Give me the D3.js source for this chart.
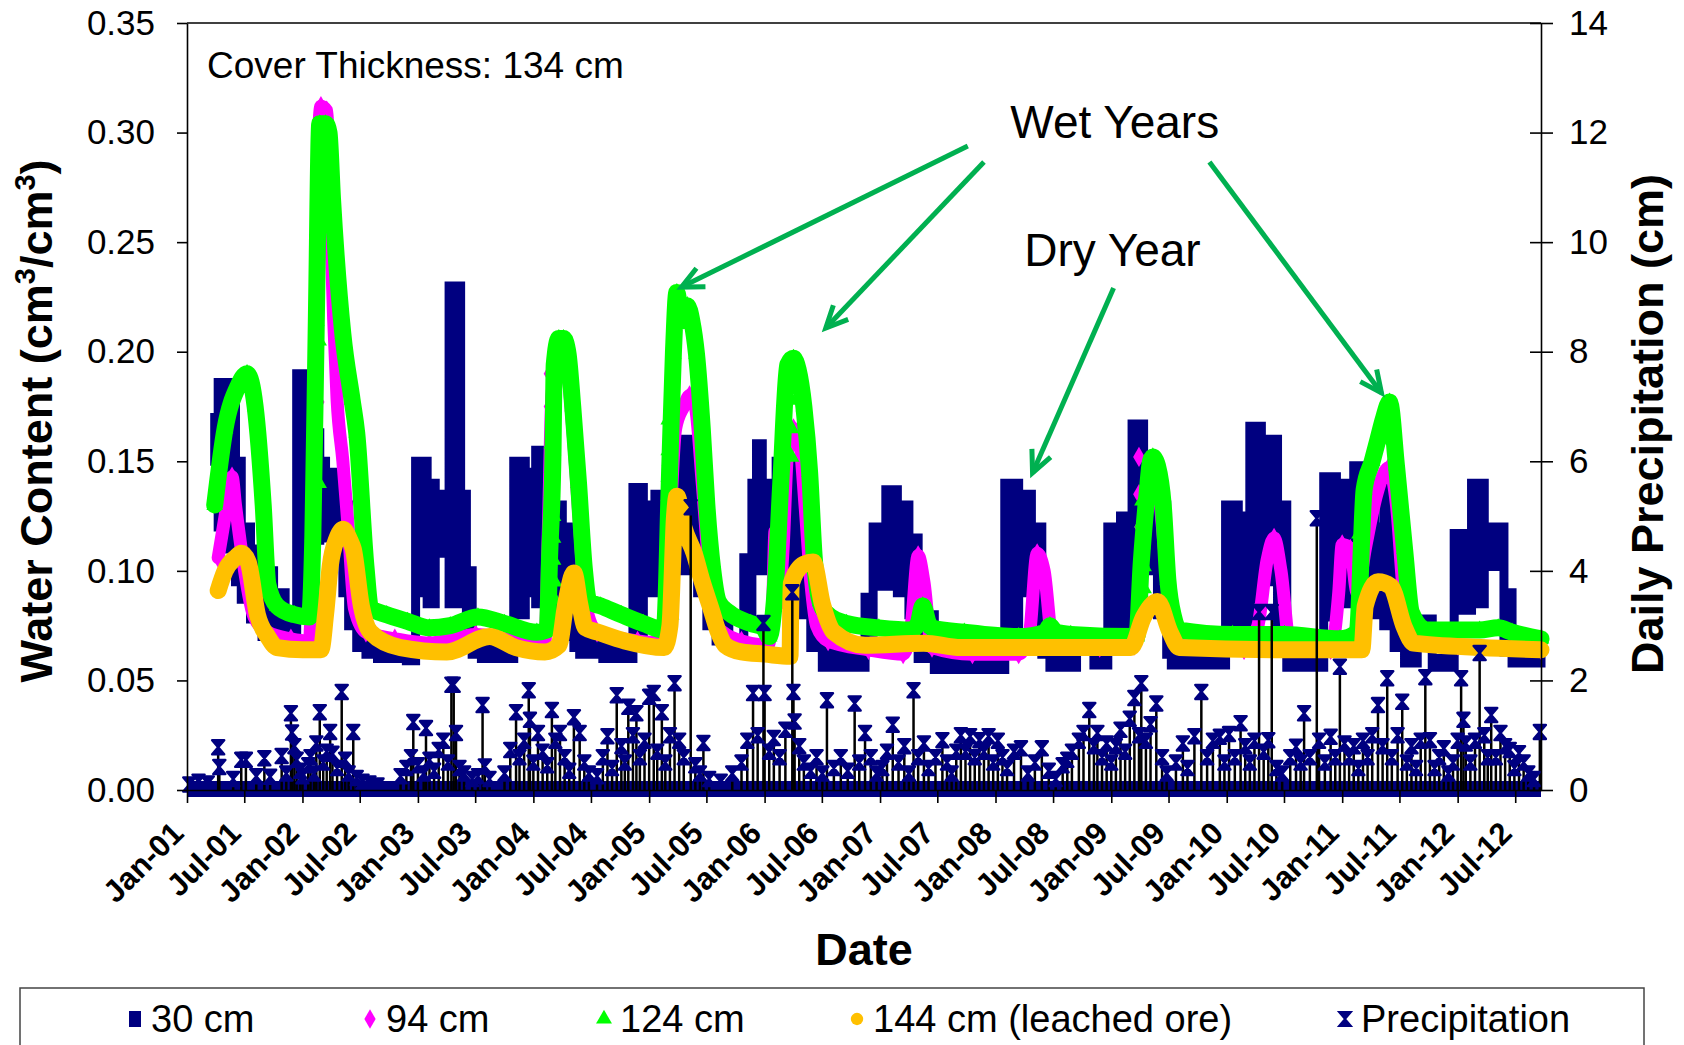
<!DOCTYPE html>
<html>
<head>
<meta charset="utf-8">
<script src="https://cdn.jsdelivr.net/npm/d3@7"></script>
<style>
  body { margin: 0; background: #fff; }
  svg { display: block; }
  text { font-family: "Liberation Sans", Arial, Helvetica, sans-serif; fill: #000; }
</style>
</head>
<body>
<svg id="chart" width="1684" height="1045"></svg>
<script>
// ---------------------------------------------------------------------------
// Data (dates as decimal years)
// ---------------------------------------------------------------------------
const seriesNames = ["30 cm", "94 cm", "124 cm", "144 cm (leached ore)", "Precipitation"];
const leftTicks = [0, 0.05, 0.10, 0.15, 0.20, 0.25, 0.30, 0.35];
const rightTicks = [0, 2, 4, 6, 8, 10, 12, 14];
const dateRange = [2001.0, 2012.72];
const precipRecord = [2001.0, 2012.72];   // daily precipitation record (0 cm on most days)

// 30 cm sensor: daily readings scatter widely, kept as [year, low, high]
const wc30 = [
  [2001.24,0.150,0.170],[2001.27,0.120,0.186],[2001.33,0.110,0.186],[2001.42,0.095,0.150],
  [2001.47,0.087,0.120],[2001.55,0.078,0.110],[2001.65,0.070,0.100],[2001.75,0.066,0.090],
  [2001.85,0.064,0.075],[2001.95,0.085,0.190],[2002.03,0.100,0.190],[2002.08,0.114,0.163],
  [2002.15,0.115,0.150],[2002.20,0.117,0.145],[2002.28,0.110,0.140],[2002.35,0.090,0.130],
  [2002.40,0.075,0.110],[2002.47,0.065,0.085],[2002.55,0.062,0.070],[2002.65,0.060,0.066],
  [2002.90,0.059,0.064],[2002.98,0.090,0.150],[2003.08,0.085,0.140],[2003.15,0.108,0.135],
  [2003.27,0.085,0.230],[2003.37,0.090,0.135],[2003.42,0.072,0.100],[2003.47,0.062,0.070],
  [2003.55,0.060,0.066],[2003.83,0.080,0.150],[2003.93,0.090,0.145],[2004.02,0.085,0.155],
  [2004.17,0.075,0.130],[2004.25,0.070,0.120],[2004.35,0.065,0.100],[2004.40,0.062,0.070],
  [2004.60,0.060,0.065],[2004.86,0.072,0.138],[2004.95,0.090,0.130],[2005.05,0.100,0.135],
  [2005.17,0.105,0.150],[2005.24,0.100,0.160],[2005.35,0.100,0.150],[2005.42,0.090,0.120],
  [2005.50,0.075,0.100],[2005.58,0.068,0.080],[2005.69,0.065,0.068],[2005.82,0.079,0.106],
  [2005.89,0.100,0.140],[2005.93,0.110,0.158],[2005.98,0.100,0.140],[2006.10,0.088,0.150],
  [2006.20,0.090,0.150],[2006.30,0.080,0.130],[2006.40,0.065,0.090],[2006.50,0.056,0.065],
  [2006.87,0.072,0.088],[2006.94,0.093,0.120],[2007.05,0.093,0.137],[2007.15,0.090,0.130],
  [2007.25,0.080,0.115],[2007.33,0.060,0.080],[2007.47,0.055,0.060],[2008.08,0.072,0.140],
  [2008.20,0.090,0.135],[2008.31,0.075,0.120],[2008.40,0.062,0.080],[2008.47,0.056,0.062],
  [2008.70,0.065,0.070],[2008.85,0.057,0.062],[2008.97,0.072,0.120],[2009.08,0.075,0.125],
  [2009.18,0.090,0.167],[2009.28,0.100,0.150],[2009.40,0.080,0.130],[2009.48,0.062,0.080],
  [2009.52,0.057,0.062],[2009.99,0.072,0.130],[2010.10,0.075,0.125],[2010.20,0.087,0.166],
  [2010.30,0.095,0.160],[2010.44,0.070,0.130],[2010.52,0.056,0.062],[2010.84,0.079,0.143],
  [2010.95,0.085,0.140],[2011.05,0.090,0.135],[2011.10,0.087,0.148],[2011.20,0.095,0.140],
  [2011.28,0.080,0.120],[2011.36,0.075,0.140],[2011.45,0.065,0.120],[2011.54,0.058,0.070],
  [2011.65,0.072,0.078],[2011.78,0.056,0.060],[2011.97,0.082,0.117],[2012.12,0.085,0.140],
  [2012.23,0.102,0.120],[2012.40,0.063,0.090],[2012.47,0.058,0.063],[2012.72,0.058,0.063]
];

// 94 cm sensor
const wc94 = [
  [2001.27,0.106],[2001.33,0.125],[2001.39,0.143],[2001.42,0.130],[2001.47,0.110],[2001.58,0.079],
  [2001.70,0.072],[2001.90,0.069],[2002.06,0.068],[2002.09,0.120],[2002.12,0.220],[2002.14,0.300],
  [2002.16,0.312],[2002.21,0.310],[2002.24,0.265],[2002.27,0.215],[2002.30,0.178],[2002.35,0.150],
  [2002.40,0.117],[2002.45,0.083],[2002.55,0.072],[2002.80,0.069],[2003.10,0.067],[2003.50,0.071],
  [2003.90,0.068],[2004.10,0.068],[2004.13,0.120],[2004.16,0.180],[2004.20,0.192],[2004.28,0.195],
  [2004.34,0.165],[2004.40,0.120],[2004.45,0.085],[2004.55,0.072],[2004.90,0.068],[2005.15,0.067],
  [2005.19,0.130],[2005.23,0.165],[2005.30,0.175],[2005.35,0.180],[2005.40,0.175],[2005.46,0.140],
  [2005.52,0.100],[2005.58,0.075],[2005.80,0.068],[2006.03,0.066],[2006.07,0.085],[2006.09,0.118],
  [2006.12,0.085],[2006.16,0.110],[2006.20,0.155],[2006.25,0.165],[2006.30,0.160],[2006.35,0.130],
  [2006.40,0.095],[2006.45,0.075],[2006.55,0.068],[2006.90,0.064],[2007.20,0.062],[2007.27,0.075],
  [2007.33,0.107],[2007.38,0.095],[2007.45,0.065],[2007.80,0.062],[2008.20,0.062],[2008.29,0.070],
  [2008.36,0.108],[2008.42,0.100],[2008.50,0.066],[2008.90,0.065],[2009.20,0.066],[2009.28,0.110],
  [2009.34,0.145],[2009.40,0.140],[2009.46,0.110],[2009.52,0.075],[2009.60,0.066],[2010.15,0.064],
  [2010.27,0.075],[2010.35,0.105],[2010.41,0.115],[2010.47,0.100],[2010.55,0.066],[2010.90,0.064],
  [2010.97,0.090],[2011.00,0.112],[2011.07,0.110],[2011.13,0.090],[2011.20,0.110],[2011.30,0.135],
  [2011.40,0.147],[2011.47,0.130],[2011.53,0.090],[2011.60,0.068],[2012.00,0.066],[2012.72,0.064]
];
const wc94Scatter = [
  [2002.14,0.177],[2004.14,0.190],[2004.14,0.175],[2004.15,0.160],[2004.15,0.145],[2004.15,0.130],
  [2004.16,0.118],[2004.16,0.105],[2004.16,0.095],[2005.15,0.132],[2005.16,0.120],[2005.16,0.108],
  [2005.17,0.096],[2005.17,0.084],[2009.24,0.152],[2009.24,0.135],[2009.25,0.120],[2009.25,0.105],
  [2009.26,0.094],[2009.26,0.084]
];

// 124 cm sensor
const wc124 = [
  [2001.24,0.130],[2001.33,0.165],[2001.44,0.184],[2001.52,0.190],[2001.59,0.175],[2001.66,0.130],
  [2001.70,0.094],[2001.78,0.084],[2001.93,0.080],[2002.06,0.079],[2002.09,0.116],[2002.12,0.214],
  [2002.15,0.304],[2002.20,0.304],[2002.23,0.300],[2002.26,0.270],[2002.35,0.208],[2002.43,0.178],
  [2002.47,0.163],[2002.55,0.102],[2002.59,0.083],[2002.73,0.080],[2002.91,0.077],[2003.10,0.074],
  [2003.28,0.075],[2003.52,0.079],[2003.75,0.076],[2004.03,0.072],[2004.12,0.073],[2004.14,0.106],
  [2004.17,0.155],[2004.18,0.194],[2004.22,0.206],[2004.26,0.206],[2004.30,0.199],[2004.34,0.175],
  [2004.39,0.140],[2004.44,0.101],[2004.48,0.086],[2004.58,0.084],[2004.76,0.080],[2004.95,0.076],
  [2005.13,0.073],[2005.18,0.150],[2005.21,0.199],[2005.24,0.227],[2005.28,0.214],[2005.33,0.221],
  [2005.37,0.214],[2005.41,0.199],[2005.46,0.165],[2005.50,0.130],[2005.55,0.101],[2005.60,0.086],
  [2005.69,0.081],[2005.88,0.076],[2005.99,0.074],[2006.04,0.070],[2006.09,0.090],[2006.14,0.140],
  [2006.20,0.194],[2006.25,0.197],[2006.29,0.192],[2006.34,0.175],[2006.39,0.145],[2006.43,0.106],
  [2006.48,0.086],[2006.53,0.081],[2006.71,0.076],[2006.99,0.074],[2007.27,0.073],[2007.33,0.076],
  [2007.37,0.084],[2007.42,0.076],[2007.45,0.074],[2007.73,0.072],[2008.20,0.070],[2008.43,0.072],
  [2008.47,0.075],[2008.52,0.072],[2008.65,0.071],[2009.22,0.070],[2009.26,0.104],[2009.31,0.135],
  [2009.34,0.150],[2009.36,0.152],[2009.40,0.148],[2009.45,0.130],[2009.49,0.096],[2009.54,0.079],
  [2009.59,0.073],[2010.05,0.071],[2010.50,0.071],[2010.98,0.069],[2011.13,0.072],[2011.19,0.137],
  [2011.26,0.150],[2011.31,0.160],[2011.36,0.170],[2011.41,0.177],[2011.47,0.148],[2011.54,0.110],
  [2011.60,0.081],[2011.73,0.073],[2012.19,0.073],[2012.35,0.074],[2012.47,0.072],[2012.72,0.069]
];
const wc124Scatter = [
  [2002.14,0.140],[2002.14,0.205],[2002.13,0.250],[2004.16,0.158],[2004.16,0.147],[2004.16,0.136],
  [2004.17,0.125],[2004.17,0.115],[2004.17,0.105],[2004.18,0.095],[2004.18,0.087],[2005.17,0.169],
  [2005.17,0.155],[2005.17,0.143],[2005.18,0.130],[2005.18,0.118],[2005.18,0.105],[2005.19,0.092],
  [2005.19,0.080],[2006.23,0.178],[2006.23,0.165],[2006.23,0.152],[2009.27,0.132],[2009.27,0.122],
  [2009.27,0.112],[2009.28,0.102],[2009.28,0.092],[2011.15,0.117],[2011.16,0.106],[2011.17,0.096]
];

// 144 cm sensor (leached ore)
const wc144 = [
  [2001.27,0.091],[2001.33,0.100],[2001.42,0.106],[2001.47,0.108],[2001.53,0.104],[2001.61,0.080],
  [2001.70,0.070],[2001.78,0.065],[2002.00,0.064],[2002.16,0.064],[2002.20,0.080],[2002.24,0.102],
  [2002.30,0.115],[2002.35,0.119],[2002.41,0.114],[2002.44,0.110],[2002.51,0.084],[2002.59,0.072],
  [2002.85,0.065],[2003.25,0.063],[2003.62,0.070],[2003.85,0.065],[2004.10,0.063],[2004.22,0.066],
  [2004.28,0.085],[2004.35,0.099],[2004.40,0.085],[2004.45,0.074],[2004.56,0.072],[2004.79,0.068],
  [2005.13,0.065],[2005.18,0.075],[2005.22,0.125],[2005.24,0.134],[2005.30,0.120],[2005.39,0.108],
  [2005.46,0.095],[2005.54,0.082],[2005.60,0.072],[2005.66,0.066],[2005.80,0.063],[2006.00,0.062],
  [2006.22,0.061],[2006.23,0.094],[2006.34,0.103],[2006.42,0.104],[2006.50,0.085],[2006.60,0.072],
  [2006.87,0.066],[2007.38,0.067],[2007.70,0.065],[2008.65,0.065],[2009.17,0.065],[2009.28,0.079],
  [2009.40,0.086],[2009.51,0.072],[2009.59,0.065],[2010.50,0.064],[2011.17,0.064],[2011.20,0.084],
  [2011.31,0.095],[2011.42,0.093],[2011.54,0.074],[2011.62,0.067],[2012.20,0.065],[2012.72,0.064]
];

// Daily precipitation, cm (days with rain)
const precip = [
  [2001.02,0.10],[2001.10,0.15],[2001.18,0.12],[2001.27,0.78],[2001.28,0.42],[2001.40,0.20],[2001.47,0.55],
  [2001.51,0.55],[2001.60,0.25],[2001.67,0.58],[2001.72,0.24],[2001.82,0.62],[2001.86,0.30],[2001.90,1.40],
  [2001.91,1.05],[2001.93,0.80],[2001.95,0.55],[2001.98,0.35],[2002.00,0.25],[2002.05,0.45],[2002.07,0.60],
  [2002.10,0.30],[2002.12,0.85],[2002.15,1.42],[2002.18,0.50],[2002.21,0.70],[2002.24,1.06],[2002.26,0.66],
  [2002.30,0.40],[2002.34,1.79],[2002.37,0.55],[2002.40,0.30],[2002.44,1.06],[2002.47,0.22],[2002.52,0.15],
  [2002.58,0.12],[2002.65,0.08],[2002.85,0.25],[2002.90,0.40],[2002.94,0.60],[2002.96,1.24],[2003.00,0.45],
  [2003.05,0.30],[2003.07,1.13],[2003.10,0.55],[2003.14,0.35],[2003.18,0.73],[2003.22,0.90],[2003.26,0.50],
  [2003.29,1.92],[2003.31,1.92],[2003.33,1.04],[2003.36,0.40],[2003.40,0.30],[2003.47,0.20],[2003.52,0.25],
  [2003.56,1.55],[2003.58,0.43],[2003.62,0.20],[2003.75,0.30],[2003.80,0.73],[2003.85,1.42],[2003.88,0.60],
  [2003.92,0.90],[2003.96,1.82],[2003.97,1.28],[2004.00,0.50],[2004.04,1.04],[2004.08,0.70],[2004.12,0.45],
  [2004.16,1.46],[2004.19,0.90],[2004.23,1.04],[2004.27,0.60],[2004.31,0.35],[2004.35,1.33],[2004.40,1.04],
  [2004.44,0.50],[2004.48,0.30],[2004.55,0.25],[2004.60,0.60],[2004.64,0.98],[2004.68,0.40],[2004.72,1.73],
  [2004.76,0.80],[2004.79,0.50],[2004.82,1.52],[2004.86,1.00],[2004.89,1.40],[2004.92,0.60],[2004.96,0.90],
  [2005.00,1.70],[2005.04,1.77],[2005.07,0.70],[2005.11,1.42],[2005.14,0.50],[2005.18,1.00],[2005.22,1.95],
  [2005.26,0.90],[2005.30,0.60],[2005.36,5.16],[2005.40,0.45],[2005.44,0.30],[2005.47,0.86],[2005.52,0.20],
  [2005.62,0.15],[2005.72,0.30],[2005.80,0.50],[2005.85,0.90],[2005.90,1.77],[2005.94,1.00],[2005.99,3.05],
  [2006.00,1.77],[2006.04,0.70],[2006.08,0.95],[2006.13,0.60],[2006.18,1.10],[2006.24,3.61],[2006.25,1.79],
  [2006.26,1.25],[2006.30,0.80],[2006.34,0.50],[2006.40,0.35],[2006.45,0.60],[2006.50,0.30],[2006.54,1.64],
  [2006.60,0.40],[2006.66,0.60],[2006.72,0.35],[2006.78,1.58],[2006.82,0.50],[2006.87,1.04],[2006.92,0.60],
  [2006.97,0.30],[2007.02,0.40],[2007.06,0.70],[2007.11,1.19],[2007.16,0.50],[2007.21,0.80],[2007.25,0.30],
  [2007.29,1.82],[2007.33,0.60],[2007.38,0.85],[2007.42,0.40],[2007.48,0.60],[2007.54,0.91],[2007.58,0.50],
  [2007.62,0.30],[2007.66,0.70],[2007.70,1.00],[2007.74,0.70],[2007.78,0.98],[2007.82,0.60],[2007.86,0.91],
  [2007.90,0.70],[2007.94,0.98],[2007.98,0.50],[2008.02,0.90],[2008.06,0.60],[2008.10,0.40],[2008.16,0.70],
  [2008.22,0.76],[2008.28,0.30],[2008.34,0.50],[2008.40,0.76],[2008.46,0.35],[2008.52,0.20],[2008.58,0.45],
  [2008.62,0.55],[2008.66,0.70],[2008.72,0.90],[2008.76,1.04],[2008.81,1.46],[2008.85,0.80],[2008.88,1.04],
  [2008.92,0.60],[2008.96,0.85],[2009.00,0.50],[2009.04,0.80],[2009.08,1.10],[2009.12,0.70],[2009.16,1.30],
  [2009.20,1.68],[2009.24,1.00],[2009.26,1.95],[2009.30,0.90],[2009.34,1.20],[2009.39,1.58],[2009.44,0.60],
  [2009.48,0.30],[2009.56,0.50],[2009.62,0.85],[2009.66,0.40],[2009.72,0.98],[2009.78,1.79],[2009.83,0.60],
  [2009.88,0.90],[2009.94,0.97],[2009.98,0.50],[2010.02,1.02],[2010.07,0.60],[2010.12,1.22],[2010.16,0.80],
  [2010.20,0.50],[2010.24,0.90],[2010.28,3.25],[2010.32,0.70],[2010.36,0.91],[2010.39,3.25],[2010.43,0.40],
  [2010.48,0.30],[2010.55,0.60],[2010.60,0.79],[2010.64,0.50],[2010.67,1.40],[2010.72,0.60],[2010.78,4.96],
  [2010.80,0.90],[2010.85,0.50],[2010.90,0.97],[2010.94,0.60],[2010.98,2.25],[2011.02,0.85],[2011.06,0.60],
  [2011.10,0.80],[2011.14,0.40],[2011.18,0.90],[2011.22,0.60],[2011.26,1.00],[2011.31,1.55],[2011.35,0.80],
  [2011.39,2.04],[2011.43,0.60],[2011.48,1.00],[2011.52,1.61],[2011.56,0.50],[2011.60,0.80],[2011.64,0.40],
  [2011.68,0.90],[2011.72,2.06],[2011.76,0.91],[2011.80,0.40],[2011.84,0.60],[2011.88,0.76],[2011.92,0.30],
  [2011.96,0.50],[2012.00,0.90],[2012.03,2.04],[2012.05,1.28],[2012.07,0.85],[2012.11,0.50],[2012.15,0.90],
  [2012.19,2.50],[2012.23,1.00],[2012.26,0.60],[2012.29,1.37],[2012.33,0.60],[2012.37,1.04],[2012.41,0.80],
  [2012.45,0.73],[2012.49,0.40],[2012.53,0.67],[2012.57,0.50],[2012.61,0.30],[2012.66,0.20],[2012.71,1.06]
];

// Callouts: label anchors and arrows [fromYear, fromWC, toYear, toWC]
const calloutLabels = [["Wet Years", 2009.03, 0.2977], ["Dry Year", 2009.01, 0.2391]];
const calloutArrows = [
  [2007.76, 0.2939, 2005.28, 0.2295],
  [2007.90, 0.2866, 2006.53, 0.2108],
  [2009.85, 0.2866, 2011.34, 0.1812],
  [2009.02, 0.2291, 2008.32, 0.1447]
];
const coverNote = "Cover Thickness: 134 cm";

// ---------------------------------------------------------------------------
// Setup
// ---------------------------------------------------------------------------
const C = { navy: "#000080", magenta: "#FF00FF", green: "#00FF00", gold: "#FFC000", arrow: "#00B050" };
const plot = { left: 187, right: 1541, top: 23, bottom: 790 };

const yr = v => {
  const y = Math.floor(v), a = Date.UTC(y, 0, 1), b = Date.UTC(y + 1, 0, 1);
  return new Date(a + (v - y) * (b - a));
};

const svg = d3.select("#chart");
const x = d3.scaleUtc().domain(dateRange.map(yr)).range([plot.left, plot.right]);
const yL = d3.scaleLinear().domain([0, 0.35]).range([plot.bottom, plot.top]);
const yR = d3.scaleLinear().domain([0, 14]).range([plot.bottom, plot.top]);

// plot frame (top edge)
svg.append("line").attr("x1", plot.left).attr("x2", plot.right)
  .attr("y1", plot.top).attr("y2", plot.top).attr("stroke", "#000").attr("stroke-width", 1.6);

// ---------------------------------------------------------------------------
// Water content series
// ---------------------------------------------------------------------------
const gData = svg.append("g");

// 30 cm: scatter band
gData.append("path").datum(wc30)
  .attr("d", d3.area().x(d => x(yr(d[0]))).y0(d => yL(d[1])).y1(d => yL(d[2])).curve(d3.curveStepAfter))
  .attr("fill", C.navy).attr("stroke", C.navy).attr("stroke-width", 9).attr("stroke-linejoin", "miter");

function thickSeries(data, color, width, symbol, scatter) {
  const g = gData.append("g");
  g.append("path").datum(data)
    .attr("d", d3.line().x(d => x(yr(d[0]))).y(d => yL(d[1])).curve(d3.curveMonotoneX))
    .attr("fill", "none").attr("stroke", color).attr("stroke-width", width)
    .attr("stroke-linejoin", "round").attr("stroke-linecap", "round");
  const pts = data.concat(scatter || []);
  g.selectAll("path.mk").data(pts).join("path").attr("class", "mk")
    .attr("transform", d => `translate(${x(yr(d[0]))},${yL(d[1])})`)
    .attr("d", d3.symbol().type(symbol).size(120))
    .attr("fill", color);
}
thickSeries(wc94, C.magenta, 13, d3.symbolDiamond, wc94Scatter);
thickSeries(wc124, C.green, 17, d3.symbolTriangle, wc124Scatter);
thickSeries(wc144, C.gold, 17, d3.symbolCircle, null);

// ---------------------------------------------------------------------------
// Precipitation (secondary axis): drop lines + hourglass markers
// ---------------------------------------------------------------------------
const hourglass = "M-6,-7L6,-7L-6,7L6,7Z";
const gP = svg.append("g");
gP.append("line")
  .attr("x1", x(yr(precipRecord[0]))).attr("x2", x(yr(precipRecord[1])))
  .attr("y1", yR(0) - 1).attr("y2", yR(0) - 1)
  .attr("stroke", C.navy).attr("stroke-width", 16);
gP.selectAll("line.stem").data(precip).join("line").attr("class", "stem")
  .attr("x1", d => x(yr(d[0]))).attr("x2", d => x(yr(d[0])))
  .attr("y1", yR(0)).attr("y2", d => yR(d[1]))
  .attr("stroke", "#000").attr("stroke-width", 2.5);
gP.selectAll("path.pm").data(precip).join("path").attr("class", "pm")
  .attr("transform", d => `translate(${x(yr(d[0]))},${yR(d[1])})`)
  .attr("d", hourglass).attr("fill", C.navy).attr("stroke", C.navy)
  .attr("stroke-width", 2.5).attr("stroke-linejoin", "round");

// ---------------------------------------------------------------------------
// Axes
// ---------------------------------------------------------------------------
const left = svg.append("g").attr("transform", `translate(${plot.left},0)`)
  .call(d3.axisLeft(yL).tickValues(leftTicks).tickFormat(d3.format(".2f")).tickSizeInner(10).tickSizeOuter(0).tickPadding(22));
left.selectAll("text").attr("font-size", 35);

const right = svg.append("g").attr("transform", `translate(${plot.right},0)`)
  .call(d3.axisRight(yR).tickValues(rightTicks).tickFormat(d3.format("d")).tickSizeInner(12).tickSizeOuter(0).tickPadding(16));
right.selectAll(".tick line").attr("x1", -11);
right.selectAll("text").attr("font-size", 35);

const bottom = svg.append("g").attr("transform", `translate(0,${plot.bottom})`)
  .call(d3.axisBottom(x).ticks(d3.utcMonth.every(6)).tickFormat(d3.utcFormat("%b-%y")).tickSizeInner(13).tickSizeOuter(0));
bottom.selectAll("text")
  .attr("x", 0).attr("y", 0).attr("dy", 0)
  .attr("text-anchor", "end").attr("font-size", 31).attr("font-weight", "bold")
  .attr("transform", "translate(-2,45) rotate(-45)");

[left, right, bottom].forEach(a => {
  a.attr("font-family", null);
  a.select(".domain").attr("stroke", "#000").attr("stroke-width", 1.6);
  a.selectAll(".tick line").attr("stroke", "#000").attr("stroke-width", 1.6);
});

// axis titles
const yTitle = svg.append("text")
  .attr("transform", "translate(52,421) rotate(-90)")
  .attr("text-anchor", "middle").attr("font-size", 45).attr("font-weight", "bold");
yTitle.append("tspan").text("Water Content (cm");
yTitle.append("tspan").attr("font-size", 29).attr("dy", -17).text("3");
yTitle.append("tspan").attr("dy", 17).text("/cm");
yTitle.append("tspan").attr("font-size", 29).attr("dy", -17).text("3");
yTitle.append("tspan").attr("dy", 17).text(")");

svg.append("text")
  .attr("transform", "translate(1663,424) rotate(-90)")
  .attr("text-anchor", "middle").attr("font-size", 45).attr("font-weight", "bold")
  .text("Daily Precipitation (cm)");

svg.append("text").attr("x", (plot.left + plot.right) / 2).attr("y", 965)
  .attr("text-anchor", "middle").attr("font-size", 45).attr("font-weight", "bold").text("Date");

// ---------------------------------------------------------------------------
// Annotations
// ---------------------------------------------------------------------------
svg.append("text").attr("x", plot.left + 20).attr("y", plot.top + 55)
  .attr("font-size", 37).text(coverNote);

svg.selectAll("text.callout").data(calloutLabels).join("text").attr("class", "callout")
  .attr("x", d => x(yr(d[1]))).attr("y", d => yL(d[2]))
  .attr("text-anchor", "middle").attr("font-size", 46).text(d => d[0]);

const gA = svg.append("g").attr("stroke", C.arrow).attr("stroke-width", 5).attr("fill", "none");
calloutArrows.forEach(a => {
  const x1 = x(yr(a[0])), y1 = yL(a[1]), x2 = x(yr(a[2])), y2 = yL(a[3]);
  const ang = Math.atan2(y1 - y2, x1 - x2), len = 24, spread = 0.44;
  gA.append("line").attr("x1", x1).attr("y1", y1).attr("x2", x2).attr("y2", y2);
  gA.append("path").attr("stroke-linejoin", "miter").attr("d",
    `M${x2 + len * Math.cos(ang + spread)},${y2 + len * Math.sin(ang + spread)}` +
    `L${x2},${y2}L${x2 + len * Math.cos(ang - spread)},${y2 + len * Math.sin(ang - spread)}`);
});

// ---------------------------------------------------------------------------
// Legend
// ---------------------------------------------------------------------------
const lg = svg.append("g");
lg.append("rect").attr("x", 20).attr("y", 988).attr("width", 1624).attr("height", 90)
  .attr("fill", "#fff").attr("stroke", "#444").attr("stroke-width", 1.5);
const legendX = [135, 370, 604, 857, 1345];
const legendSym = [
  g => g.append("rect").attr("x", -6).attr("y", -8).attr("width", 12).attr("height", 16).attr("fill", C.navy),
  g => g.append("path").attr("d", d3.symbol().type(d3.symbolDiamond).size(110)).attr("fill", C.magenta),
  g => g.append("path").attr("d", d3.symbol().type(d3.symbolTriangle).size(110)).attr("fill", C.green),
  g => g.append("path").attr("d", d3.symbol().type(d3.symbolCircle).size(120)).attr("fill", C.gold),
  g => g.append("path").attr("d", hourglass).attr("fill", C.navy).attr("stroke", C.navy).attr("stroke-width", 2)
];
seriesNames.forEach((name, i) => {
  const it = lg.append("g").attr("transform", `translate(${legendX[i]},1019)`);
  legendSym[i](it);
  it.append("text").attr("x", 16).attr("y", 13).attr("font-size", 38).text(name);
});
</script>
</body>
</html>
